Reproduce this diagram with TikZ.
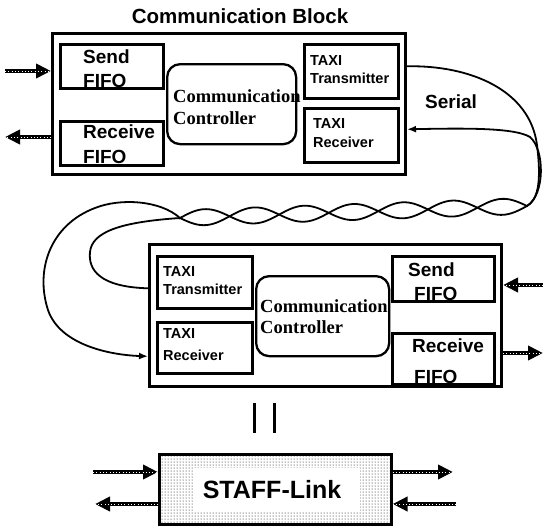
\documentclass[tikz,border=0pt]{standalone}
\usepackage{fontspec}
\setmainfont{Liberation Sans}
\newfontfamily\ctrlfont{Liberation Serif}
\usetikzlibrary{arrows.meta,patterns}

\begin{document}
\begin{tikzpicture}[x=1pt, y=-1pt,
    box/.style={draw, line width=2.6pt, anchor=north west, inner sep=0pt},
    ctrlbox/.style={draw, line width=2.3pt, rounded corners=13pt, anchor=north west, inner sep=0pt},
    bigtxt/.style={font=\bfseries\fontsize{19}{21}\selectfont, inner sep=0pt, anchor=base west},
    smalltxt/.style={font=\bfseries\fontsize{14.5}{16}\selectfont, inner sep=0pt, anchor=base west},
    ctrltxt/.style={font=\ctrlfont\bfseries\fontsize{18.5}{20}\selectfont, inner sep=0pt, anchor=base west},
    wire/.style={line width=1.8pt},
    wirearrow/.style={wire, -{Latex[length=9pt,width=7pt]}},
    ropearrow/.style={line width=4.8pt, black, -{Triangle[length=15pt,width=14pt]},
        postaction={draw=white, line width=0.9pt, dash pattern=on 0.7pt off 2.6pt, -}}
]

    \useasboundingbox (0,0) rectangle (543,525);

    % Top communication block
    \node[font=\bfseries\fontsize{20.5}{22}\selectfont, anchor=base, inner sep=0pt] (title) at (240,23) {Communication Block};
    \node[box, line width=3pt, minimum width=353pt, minimum height=141pt] (topblk) at (51,32) {};

    \node[box, minimum width=103pt, minimum height=44pt] (topsend) at (59,43) {};
    \node[bigtxt] (topsend1) at (83,63) {Send};
    \node[bigtxt] (topsend2) at (83,87) {FIFO};

    \node[box, minimum width=103pt, minimum height=44pt] (toprecv) at (59,120) {};
    \node[bigtxt] (toprecv1) at (83,138) {Receive};
    \node[bigtxt] (toprecv2) at (83,163) {FIFO};

    \node[ctrlbox, minimum width=129pt, minimum height=80pt] (topctrl) at (166,63) {};
    \node[ctrltxt] (topctrl1) at (173,102) {Communication};
    \node[ctrltxt] (topctrl2) at (173,124) {Controller};

    \node[box, minimum width=94pt, minimum height=54pt] (toptx) at (303,43) {};
    \node[smalltxt] (toptx1) at (310,65) {TAXI};
    \node[smalltxt] (toptx2) at (310,83) {Transmitter};

    \node[box, minimum width=94pt, minimum height=54pt] (toprx) at (303,107) {};
    \node[smalltxt] (toprx1) at (313,128) {TAXI};
    \node[smalltxt] (toprx2) at (313,147) {Receiver};

    \node[bigtxt] (serial) at (425,108) {Serial};

    % Bottom communication block
    \node[box, line width=3pt, minimum width=352pt, minimum height=142pt] (botblk) at (148,243) {};

    \node[box, minimum width=95pt, minimum height=52pt] (bottx) at (156,255) {};
    \node[smalltxt] (bottx1) at (163,276) {TAXI};
    \node[smalltxt] (bottx2) at (163,294) {Transmitter};

    \node[box, minimum width=95pt, minimum height=51pt] (botrx) at (156,321) {};
    \node[smalltxt] (botrx1) at (163,338) {TAXI};
    \node[smalltxt] (botrx2) at (163,360) {Receiver};

    \node[ctrlbox, minimum width=133pt, minimum height=80pt] (botctrl) at (255,275) {};
    \node[ctrltxt] (botctrl1) at (260,312) {Communication};
    \node[ctrltxt] (botctrl2) at (260,333) {Controller};

    \node[box, minimum width=102pt, minimum height=45pt] (botsend) at (391,255) {};
    \node[bigtxt] (botsend1) at (408,276) {Send};
    \node[bigtxt] (botsend2) at (414,300) {FIFO};

    \node[box, minimum width=102pt, minimum height=51pt] (botrecv) at (391,332) {};
    \node[bigtxt] (botrecv1) at (412,352) {Receive};
    \node[bigtxt] (botrecv2) at (414,383) {FIFO};

    % STAFF-Link
    \node[box, pattern=dots, pattern color=black, minimum width=232pt, minimum height=70pt] (staff) at (158,453) {};
    \fill[white] (193,468) rectangle (360,511);
    \node[font=\bfseries\fontsize{25}{27}\selectfont, anchor=base, inner sep=0pt] (stafftxt) at (272,498) {STAFF-Link};

    % the two bars
    \draw[line width=3pt] (254,403) -- (254,433);
    \draw[line width=3pt] (274,403) -- (274,433);

    % free ends of the FIFO arrows
    \coordinate (tin) at (5,71);
    \coordinate (tout) at (5,137);
    \coordinate (bin) at (543,285);
    \coordinate (bout) at (543,353);
    \coordinate (sinl) at (93,472);
    \coordinate (soutl) at (95,504);
    \coordinate (soutr) at (453,472);
    \coordinate (sinr) at (456,504);

    \draw[ropearrow] (tin) -- (tin -| topblk.west);
    \draw[ropearrow] (tout -| topblk.west) -- (tout);
    \draw[ropearrow] (bin) -- (bin -| botblk.east);
    \draw[ropearrow] (bout -| botblk.east) -- (bout);
    \draw[ropearrow] (sinl) -- (sinl -| staff.west);
    \draw[ropearrow] (soutl -| staff.west) -- (soutl);
    \draw[ropearrow] (soutr -| staff.east) -- (soutr);
    \draw[ropearrow] (sinr) -- (sinr -| staff.east);

    % Serial lines (twisted pair)
    \coordinate (txtop) at ([yshift=5pt]toptx.east);
    \coordinate (rxtop) at ([yshift=6pt]toprx.east);
    \coordinate (txbot) at ([yshift=-6pt]bottx.west);
    \coordinate (rxbot) at ([yshift=-8.5pt]botrx.west);

    \draw[wirearrow] (txtop -| topblk.east) .. controls (470,65) and (530,90) .. (537,145)
        .. controls (542,185) and (537,200) .. (527,206)
        -- plot[domain=527:180, samples=160] (\x, {206+(527-\x)*0.0346+8*sin((527-\x)*3.6312)})
        .. controls (160,200) and (120,198) .. (95,208)
        .. controls (50,225) and (35,270) .. (48,310)
        .. controls (60,345) and (110,355) .. (rxbot -| botblk.west);

    \draw[wirearrow] (txbot -| botblk.west) .. controls (100,287) and (88,270) .. (90,252)
        .. controls (92,232) and (120,222) .. (180,218)
        -- plot[domain=180:527, samples=160] (\x, {206+(527-\x)*0.0346-8*sin((527-\x)*3.6312)})
        .. controls (545,195) and (545,150) .. (530,137)
        .. controls (515,128) and (470,128) .. (rxtop -| topblk.east);

\end{tikzpicture}
\end{document}
